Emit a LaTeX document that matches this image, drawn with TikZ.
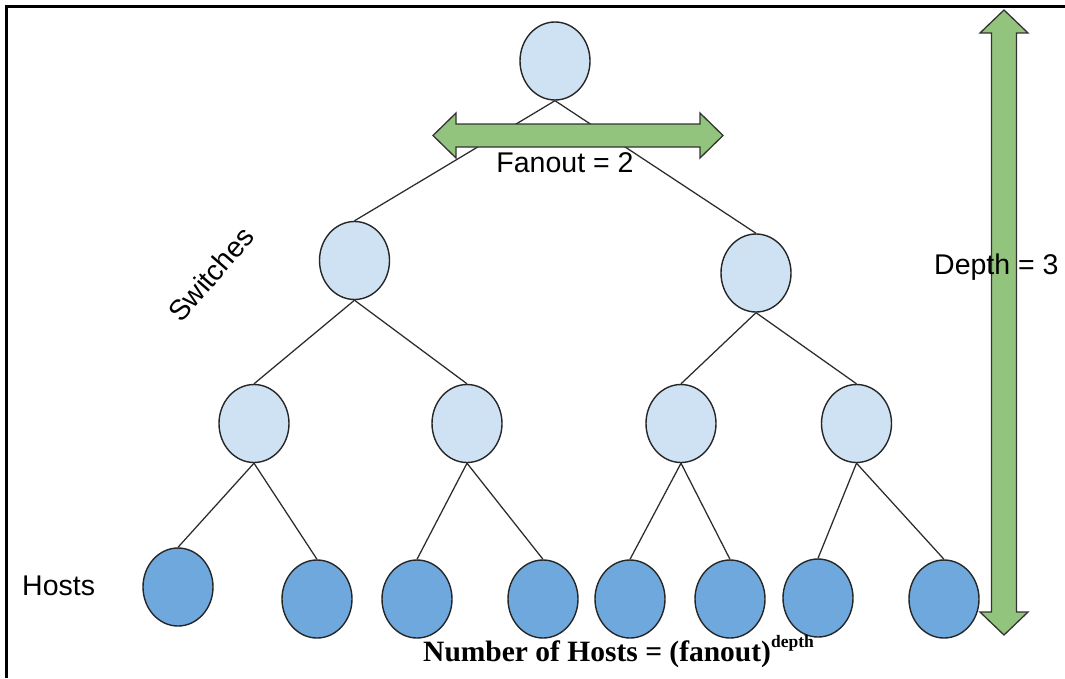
\documentclass[tikz,border=0pt]{standalone}
\usepackage{fontspec}
\setmainfont{Liberation Sans}
\newfontfamily\formfont{Liberation Serif}
\usetikzlibrary{shapes.geometric}
\definecolor{swfill}{HTML}{CFE2F3}
\definecolor{hostfill}{HTML}{6FA8DC}
\definecolor{arrfill}{HTML}{93C47D}
\definecolor{edgecol}{HTML}{2B2B2B}
\tikzset{
  sw/.style={ellipse, draw=black!85, line width=1.4pt, fill=swfill, minimum width=70pt, minimum height=78pt, inner sep=0pt},
  host/.style={ellipse, draw=black!85, line width=1.4pt, fill=hostfill, minimum width=70pt, minimum height=78pt, inner sep=0pt},
  link/.style={draw=edgecol, line width=1.25pt},
  bigarrow/.style={fill=arrfill, draw=black!80, line width=1.3pt, line join=miter},
  lbl/.style={font=\fontsize{28.5}{34}\selectfont, inner sep=0pt},
}
\begin{document}
\begin{tikzpicture}[x=1pt, y=-1pt]
\useasboundingbox (0,0) rectangle (1065,678);
\fill[white] (0,0) rectangle (1065,678);
% frame
\draw[line width=2.6pt, black] (6.2,678) -- (6.2,6.2) -- (1065,6.2);

% nodes
\node[sw] (r) at (555,61) {};
\node[sw] (a) at (354.5,260.5) {};
\node[sw] (b) at (756,273) {};
\node[sw] (a1) at (254,423.5) {};
\node[sw] (a2) at (467,423.5) {};
\node[sw] (b1) at (681,423.5) {};
\node[sw] (b2) at (856.5,423.5) {};
\node[host] (h1) at (178,587) {};
\node[host] (h2) at (317,599) {};
\node[host] (h3) at (417,599) {};
\node[host] (h4) at (543,599) {};
\node[host] (h5) at (630,599) {};
\node[host] (h6) at (730,599) {};
\node[host] (h7) at (818,598) {};
\node[host] (h8) at (944,599) {};

% edges
\foreach \p/\c in {r/a, r/b, a/a1, a/a2, b/b1, b/b2, a1/h1, a1/h2, a2/h3, a2/h4, b1/h5, b1/h6, b2/h7, b2/h8}
  \draw[link] (\p.south) -- (\c.north);

% fanout arrow
\draw[bigarrow] (433,135.5) -- (456,113) -- (456,124) -- (700,124) -- (700,113) -- (723,135.5)
  -- (700,158) -- (700,147) -- (456,147) -- (456,158) -- cycle;
\node[lbl, anchor=base] (fan) at (565,172) {Fanout = 2};

% depth arrow
\draw[bigarrow] (1004,10) -- (1028,33) -- (1016.5,33) -- (1016.5,612) -- (1028,612) -- (1004,635)
  -- (980,612) -- (991.5,612) -- (991.5,33) -- (980,33) -- cycle;
\node[lbl, anchor=base west] (dep) at (934,274) {Depth = 3};

% labels
\node[lbl, rotate=49] (swl) at (211,274) {Switches};
\node[lbl, anchor=base west] (hl) at (22,595) {Hosts};
\node[anchor=base west, inner sep=0pt, font=\formfont\bfseries\fontsize{29.5}{34}\selectfont] (form) at (423,661)
  {Number of Hosts = (fanout)\raisebox{14pt}{\fontsize{17.5}{20}\selectfont depth}};
\end{tikzpicture}
\end{document}
